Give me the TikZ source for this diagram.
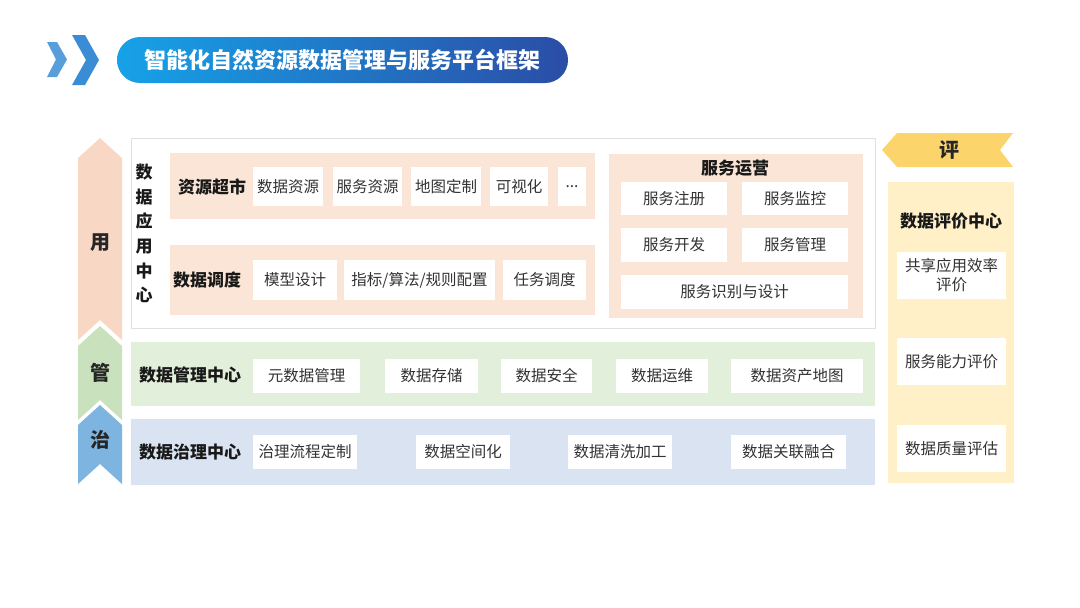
\documentclass[tikz,border=0pt]{standalone}
\usepackage{fontspec}
\setmainfont{Noto Sans CJK SC}
\usetikzlibrary{calc}
\definecolor{peach}{HTML}{FBE5D6}
\definecolor{peachdark}{HTML}{F8D8C4}
\definecolor{leaf}{HTML}{E2EFDA}
\definecolor{leafdark}{HTML}{C9E1BC}
\definecolor{sky}{HTML}{DAE3F1}
\definecolor{skydark}{HTML}{7DB4E0}
\definecolor{cream}{HTML}{FFF0C8}
\definecolor{gold}{HTML}{FBD56B}
\definecolor{chev}{HTML}{3A8DD4}
\definecolor{titleL}{HTML}{16A2E8}
\definecolor{titleR}{HTML}{2B4DA6}

\begin{document}
\begin{tikzpicture}[x=1pt,y=-1pt,
 item/.style 2 args={fill=white,text=black!80,inner sep=0pt,minimum width=#1,minimum height=#2,font=\fontsize{15.5}{18}\selectfont,align=center},
 head/.style={text=black!90,font=\bfseries\fontsize{17}{20}\selectfont},
 side/.style={text=black!85,font=\bfseries\fontsize{20}{22}\selectfont}]
 \useasboundingbox (0,0) rectangle (1080,608);
 % title bar
 \fill[chev!85] (47,42)--(57,42)--(67,59.5)--(57,77)--(47,77)--(56,59.5)--cycle;
 \fill[chev] (72,35)--(85,35)--(99,60)--(85,85)--(72,85)--(86,60)--cycle;
 \node[rounded corners=23,left color=titleL,right color=titleR,minimum width=451,minimum height=46,text=white,font=\bfseries\fontsize{22}{25}\selectfont] (title) at (342.5,60) {智能化自然资源数据管理与服务平台框架};
 % left arrows
 \fill[peachdark] (100,138)--(122,158)--(122,340)--(100,320)--(78,340)--(78,158)--cycle;
 \fill[leafdark] (100,326)--(122,346)--(122,420)--(100,400)--(78,420)--(78,346)--cycle;
 \fill[skydark] (100,405)--(122,425)--(122,484)--(100,464)--(78,484)--(78,425)--cycle;
 \node[side] (yong) at (100,243) {用};
 \node[side] (guan) at (100,373) {管};
 \node[side] (zhi) at (100,440) {治};
 % application center
 \draw[black!12,fill=white] (131,138) rectangle (875,328);
 \node[head,align=center,font=\bfseries\fontsize{17}{24.6}\selectfont] (app) at (144,233.5) {数\\据\\应\\用\\中\\心};
 \fill[peach] (170,153) rectangle (595,219);
 \fill[peach] (170,245) rectangle (595,315);
 \fill[peach] (609,154) rectangle (863,318);
 \node[head] (market) at (212,187) {资源超市};
 \node[item={70}{39}] (m1) at (288,186.5) {数据资源};
 \node[item={69}{39}] (m2) at (367.5,186.5) {服务资源};
 \node[item={70}{39}] (m3) at (446,186.5) {地图定制};
 \node[item={58}{39}] (m4) at (519,186.5) {可视化};
 \node[item={28}{39}] (m5) at (572,186.5) {...};
 \node[head] (sched) at (207,280) {数据调度};
 \node[item={84}{40}] (s1) at (295,280) {模型设计};
 \node[item={151}{40}] (s2) at (419.5,280) {指标/算法/规则配置};
 \node[item={83}{40}] (s3) at (544.5,280) {任务调度};
 \node[head] (ops) at (735,168) {服务运营};
 \node[item={106}{33}] (o1) at (674,198.5) {服务注册};
 \node[item={106}{33}] (o2) at (795,198.5) {服务监控};
 \node[item={106}{34}] (o3) at (674,245) {服务开发};
 \node[item={106}{34}] (o4) at (795,245) {服务管理};
 \node[item={227}{34}] (o5) at (734.5,292) {服务识别与设计};
 % management center
 \fill[leaf] (131,342) rectangle (875,406);
 \node[head] (mgmt) at (190,375) {数据管理中心};
 \node[item={107}{34}] (g1) at (306.5,376) {元数据管理};
 \node[item={93}{34}] (g2) at (431.5,376) {数据存储};
 \node[item={91}{34}] (g3) at (546.5,376) {数据安全};
 \node[item={92}{34}] (g4) at (662,376) {数据运维};
 \node[item={132}{34}] (g5) at (797,376) {数据资产地图};
 % governance center
 \fill[sky] (131,419) rectangle (875,485);
 \node[head] (gov) at (190,452) {数据治理中心};
 \node[item={104}{34}] (z1) at (305,452) {治理流程定制};
 \node[item={94}{34}] (z2) at (463,452) {数据空间化};
 \node[item={104}{34}] (z3) at (620,452) {数据清洗加工};
 \node[item={115}{34}] (z4) at (788.5,452) {数据关联融合};
 % evaluation center
 \fill[gold] (882,150)--(897,133)--(1013,133)--(1000,150)--(1013,167)--(897,167)--cycle;
 \node[side] (ping) at (949,150) {评};
 \fill[cream] (888,182) rectangle (1014,483);
 \node[head] (eval) at (951,221) {数据评价中心};
 \node[item={109}{47},font=\fontsize{15.5}{19}\selectfont] (e1) at (951.5,275.5) {共享应用效率\\评价};
 \node[item={109}{47}] (e2) at (951.5,361.5) {服务能力评价};
 \node[item={109}{47}] (e3) at (951.5,448.5) {数据质量评估};
\end{tikzpicture}
\end{document}
